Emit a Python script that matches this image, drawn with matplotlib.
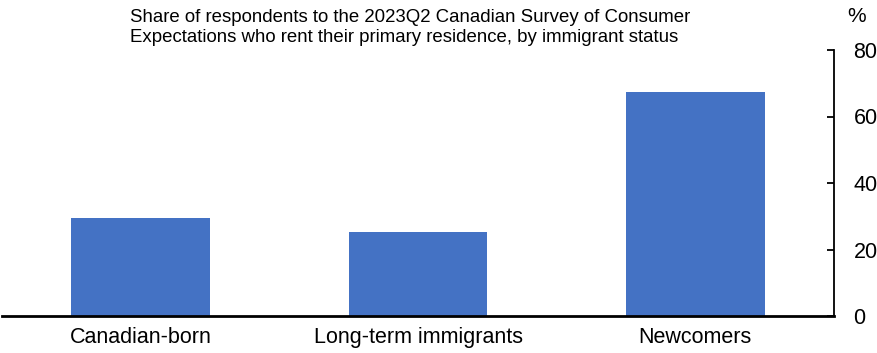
import matplotlib.pyplot as plt

plt.rcParams['font.family'] = ['Liberation Sans', 'DejaVu Sans']

categories = ["Canadian-born", "Long-term immigrants", "Newcomers"]
share_renting = [29.5, 25.3, 67.4]
y_ticks = [0, 20, 40, 60, 80]

fig = plt.figure(figsize=(8.77, 3.53), dpi=100)
ax = fig.add_axes([2 / 877, 1 - 316 / 353, 832 / 877, 266 / 353])

ax.bar(range(len(categories)), share_renting, width=0.5, color="#4472C4")
ax.set_xlim(-0.5, 2.5)
ax.set_ylim(0, 80)
ax.set_xticks(range(len(categories)))
ax.set_xticklabels(categories, fontsize=15.5)
ax.set_yticks(y_ticks)

ax.yaxis.tick_right()
ax.tick_params(axis="y", direction="in", length=5, width=1.3, labelsize=15.5, pad=14)
ax.tick_params(axis="x", length=0, pad=8)
for side in ["top", "left"]:
    ax.spines[side].set_visible(False)
ax.spines["right"].set_linewidth(1.3)
ax.spines["bottom"].set_linewidth(2)

fig.text(130 / 877, 1 - 9 / 353,
         "Share of respondents to the 2023Q2 Canadian Survey of Consumer\n"
         "Expectations who rent their primary residence, by immigrant status",
         fontsize=13.4, va="top", ha="left", linespacing=1.25)
fig.text(857 / 877, 1 - 16 / 353, "%", fontsize=15, ha="center", va="center")

fig.savefig("out.png", dpi=100)
